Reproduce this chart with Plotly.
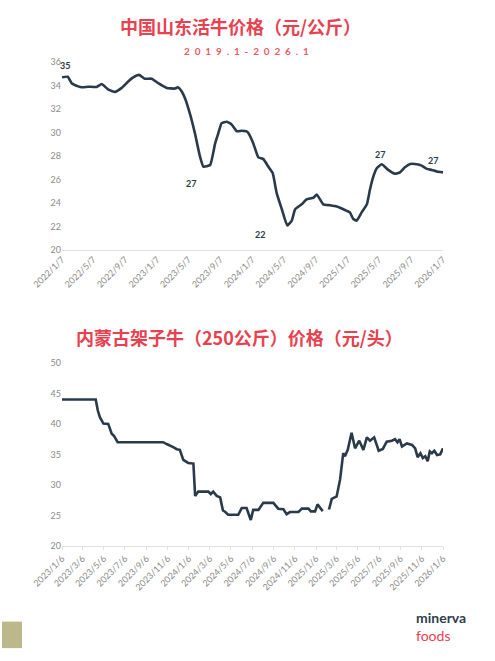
import plotly.graph_objects as go
from plotly.subplots import make_subplots

# 山东活牛价格 (元/公斤)
sd_dates = [
    "2022-01-07", "2022-01-29", "2022-02-13", "2022-03-10", "2022-03-24", "2022-04-18",
    "2022-05-20", "2022-06-08", "2022-07-04", "2022-07-29", "2022-08-24", "2022-09-18",
    "2022-10-07", "2022-10-29", "2022-11-21", "2022-12-17", "2023-01-11", "2023-02-12",
    "2023-03-16", "2023-03-27", "2023-04-11", "2023-04-24", "2023-05-13", "2023-06-01",
    "2023-06-20", "2023-07-03", "2023-07-29", "2023-08-17", "2023-08-29", "2023-09-11",
    "2023-10-01", "2023-10-20", "2023-11-08", "2023-11-27", "2023-12-16", "2023-12-22",
    "2024-01-11", "2024-01-30", "2024-02-18", "2024-03-08", "2024-03-25", "2024-04-09",
    "2024-04-29", "2024-05-20", "2024-06-06", "2024-06-19", "2024-07-14", "2024-08-02",
    "2024-08-28", "2024-09-10", "2024-10-05", "2024-10-31", "2024-11-26", "2024-12-21",
    "2025-01-15", "2025-01-28", "2025-02-10", "2025-03-01", "2025-03-21", "2025-04-02",
    "2025-04-15", "2025-04-28", "2025-05-17", "2025-06-11", "2025-07-07", "2025-07-26",
    "2025-08-14", "2025-09-03", "2025-09-28", "2025-10-17", "2025-11-06", "2025-11-25",
    "2025-12-14", "2026-01-07",
]
sd_price = [
    34.70, 34.75, 34.20, 33.93, 33.85, 33.90,
    33.88, 34.13, 33.65, 33.46, 33.80, 34.35,
    34.69, 34.91, 34.58, 34.58, 34.20, 33.80,
    33.74, 33.85, 33.50, 32.90, 31.56, 29.90,
    27.96, 27.10, 27.23, 29.05, 29.90, 30.80,
    30.92, 30.67, 30.10, 30.15, 30.10, 29.97,
    29.05, 27.88, 27.73, 27.10, 26.54, 24.86,
    23.46, 22.07, 22.49, 23.46, 23.88, 24.30,
    24.44, 24.72, 23.88, 23.80, 23.69, 23.46,
    23.19, 22.63, 22.49, 23.19, 23.88, 25.14,
    26.26, 26.96, 27.30, 26.81, 26.48, 26.60,
    27.04, 27.32, 27.30, 27.18, 26.90, 26.81,
    26.68, 26.60,
]
# labelled points: (index into sd_price, xshift, yshift)
sd_labels = [(0, 3, 12), (25, -12, -17), (43, -27, -9), (62, -2, 10), (73, -10, 12)]

sd_tickvals = [
    "2022-01-07", "2022-05-07", "2022-09-07", "2023-01-07", "2023-05-07", "2023-09-07",
    "2024-01-07", "2024-05-07", "2024-09-07", "2025-01-07", "2025-05-07", "2025-09-07",
    "2026-01-07",
]
sd_ticktext = [
    "2022/1/7", "2022/5/7", "2022/9/7", "2023/1/7", "2023/5/7", "2023/9/7",
    "2024/1/7", "2024/5/7", "2024/9/7", "2025/1/7", "2025/5/7", "2025/9/7",
    "2026/1/7",
]

# 内蒙古架子牛价格 (元/头), None marks the missing week
nm_dates = [
    "2023-01-06", "2023-04-13", "2023-04-19", "2023-04-25", "2023-05-05", "2023-05-19",
    "2023-05-29", "2023-06-05", "2023-06-15", "2023-10-24", "2023-11-03", "2023-11-12",
    "2023-11-22", "2023-12-02", "2023-12-11", "2023-12-21", "2024-01-04", "2024-01-19",
    "2024-01-24", "2024-02-02", "2024-03-02", "2024-03-09", "2024-03-16", "2024-03-26",
    "2024-04-05", "2024-04-13", "2024-04-19", "2024-04-28", "2024-05-27", "2024-06-06",
    "2024-06-20", "2024-07-02", "2024-07-09", "2024-07-24", "2024-08-07", "2024-09-05",
    "2024-09-19", "2024-10-04", "2024-10-13", "2024-10-23", "2024-11-16", "2024-11-26",
    "2024-12-15", "2024-12-22", "2025-01-03", "2025-01-10", "2025-01-17", "2025-01-25",
    "2025-02-03",
    "2025-02-12", "2025-02-20", "2025-03-06", "2025-03-16", "2025-03-25", "2025-03-30",
    "2025-04-07", "2025-04-18", "2025-04-28", "2025-05-10", "2025-05-22", "2025-06-01",
    "2025-06-10", "2025-06-22", "2025-07-05", "2025-07-17", "2025-07-28", "2025-08-12",
    "2025-08-21", "2025-08-28", "2025-09-03", "2025-09-10", "2025-09-24", "2025-10-09",
    "2025-10-18", "2025-10-25", "2025-11-02", "2025-11-09", "2025-11-16", "2025-11-23",
    "2025-11-29", "2025-12-05", "2025-12-12", "2025-12-20", "2025-12-29", "2026-01-06",
]
nm_price = [
    44.0, 44.0, 42.2, 41.1, 40.05, 40.0,
    38.4, 38.0, 37.0, 37.0, 36.7, 36.5,
    36.2, 35.85, 35.75, 34.1, 33.6, 33.5,
    28.2, 28.9, 28.9, 28.5, 28.9, 28.2,
    27.95, 25.8, 25.6, 25.1, 25.1, 26.2,
    26.2, 24.25, 25.9, 25.9, 27.05, 27.05,
    26.1, 26.0, 25.2, 25.55, 25.55, 26.1,
    26.1, 25.65, 25.65, 26.8, 26.2, 25.7,
    None,
    25.97, 27.7, 28.1, 30.9, 35.2, 34.7,
    35.75, 38.55, 36.0, 37.25, 35.75, 37.8,
    37.25, 37.8, 35.6, 35.9, 37.1, 37.25,
    37.5, 37.0, 37.5, 36.3, 36.8, 36.55,
    36.0, 34.55, 35.2, 34.4, 34.7, 33.9,
    35.5, 35.2, 35.6, 34.9, 35.0, 36.0,
]

nm_tickvals = [
    "2023-01-06", "2023-03-06", "2023-05-06", "2023-07-06", "2023-09-06", "2023-11-06",
    "2024-01-06", "2024-03-06", "2024-05-06", "2024-07-06", "2024-09-06", "2024-11-06",
    "2025-01-06", "2025-03-06", "2025-05-06", "2025-07-06", "2025-09-06", "2025-11-06",
    "2026-01-06",
]
nm_ticktext = [
    "2023/1/6", "2023/3/6", "2023/5/6", "2023/7/6", "2023/9/6", "2023/11/6",
    "2024/1/6", "2024/3/6", "2024/5/6", "2024/7/6", "2024/9/6", "2024/11/6",
    "2025/1/6", "2025/3/6", "2025/5/6", "2025/7/6", "2025/9/6", "2025/11/6",
    "2026/1/6",
]

LINE = "#2b3a4a"
RED = "#e8414f"
TICK = "#8a8a8a"
W, H = 495, 661
ML, MR = 62, 443          # left / right edge of the plotting area in pixels


def px(x):
    """Pixel column -> paper x (paper spans the plotting area)."""
    return (x - ML) / (MR - ML)


def py(y):
    """Pixel row -> paper y (no top/bottom margin)."""
    return 1 - y / H


fig = make_subplots(rows=2, cols=1)

fig.add_trace(go.Scatter(x=sd_dates, y=sd_price, mode="lines",
                         line=dict(color=LINE, width=2.6, shape="spline", smoothing=0.4),
                         hoverinfo="skip", showlegend=False), row=1, col=1)
fig.add_trace(go.Scatter(x=nm_dates, y=nm_price, mode="lines", connectgaps=False,
                         line=dict(color=LINE, width=2.6),
                         hoverinfo="skip", showlegend=False), row=2, col=1)

axis_common = dict(showgrid=False, zeroline=False, fixedrange=True)
tickfont = dict(family="Lato, 'Open Sans', sans-serif", size=9, color=TICK)

top_dom = [py(248), py(57)]
bot_dom = [py(549), py(363)]

fig.update_xaxes(row=1, col=1, type="date", range=[sd_tickvals[0], sd_tickvals[-1]],
                 tickvals=sd_tickvals, ticktext=sd_ticktext, tickangle=-45,
                 tickfont=tickfont, showline=True, linecolor="#e2e2e2", linewidth=1,
                 ticks="", **axis_common)
fig.update_yaxes(row=1, col=1, domain=top_dom, range=[20, 36], dtick=2, tick0=20,
                 tickfont=tickfont, showline=False, ticks="", **axis_common)

fig.update_xaxes(row=2, col=1, type="date", range=[nm_tickvals[0], nm_tickvals[-1]],
                 tickvals=nm_tickvals, ticktext=nm_ticktext, tickangle=-45,
                 tickfont=tickfont, showline=True, linecolor="#e2e2e2", linewidth=1,
                 ticks="outside", ticklen=3, tickcolor="#e2e2e2", **axis_common)
fig.update_yaxes(row=2, col=1, domain=bot_dom, range=[20, 50], dtick=5, tick0=20,
                 tickfont=tickfont, showline=False, ticks="", **axis_common)

annotations = []
for idx, dx, dy in sd_labels:
    annotations.append(dict(
        x=sd_dates[idx], y=sd_price[idx], xref="x", yref="y",
        text=f"<b>{round(sd_price[idx])}</b>", showarrow=False,
        xshift=dx, yshift=dy,
        font=dict(family="Lato, sans-serif", size=9, color=LINE),
    ))

sub = "\u00a0\u00a0".join("2019.1-2026.1")
annotations += [
    dict(x=px(240), y=py(20), xref="paper", yref="paper", showarrow=False,
         xanchor="center", yanchor="middle",
         text="<b>中国山东活牛价格（元/公斤）</b>",
         font=dict(family="Noto Sans CJK SC", size=18, color=RED)),
    dict(x=px(246), y=py(46), xref="paper", yref="paper", showarrow=False,
         xanchor="center", yanchor="middle",
         text=f"<b>{sub}</b>",
         font=dict(family="Lato, sans-serif", size=10, color="#ec5a66")),
    dict(x=px(239), y=py(337), xref="paper", yref="paper", showarrow=False,
         xanchor="center", yanchor="middle",
         text="<b>内蒙古架子牛（250公斤）价格（元/头）</b>",
         font=dict(family="Noto Sans CJK SC", size=18, color=RED)),
    # company logo, two lines in one text block
    dict(x=px(414), y=py(631), xref="paper", yref="paper", showarrow=False,
         xanchor="left", yanchor="middle", align="left",
         text=f"<b>minerva</b><br><span style='color:{RED}'>foods</span>",
         font=dict(family="Lato, sans-serif", size=14, color="#2e3d4f")),
]

fig.update_layout(
    width=W, height=H,
    margin=dict(l=ML, r=W - MR, t=0, b=0),
    paper_bgcolor="white", plot_bgcolor="white",
    annotations=annotations,
    shapes=[dict(type="rect", xref="paper", yref="paper",
                 x0=px(2), x1=px(22), y0=py(653), y1=py(626),
                 fillcolor="#bdb88b", line=dict(width=0))],
)

fig.write_html("out.html")
